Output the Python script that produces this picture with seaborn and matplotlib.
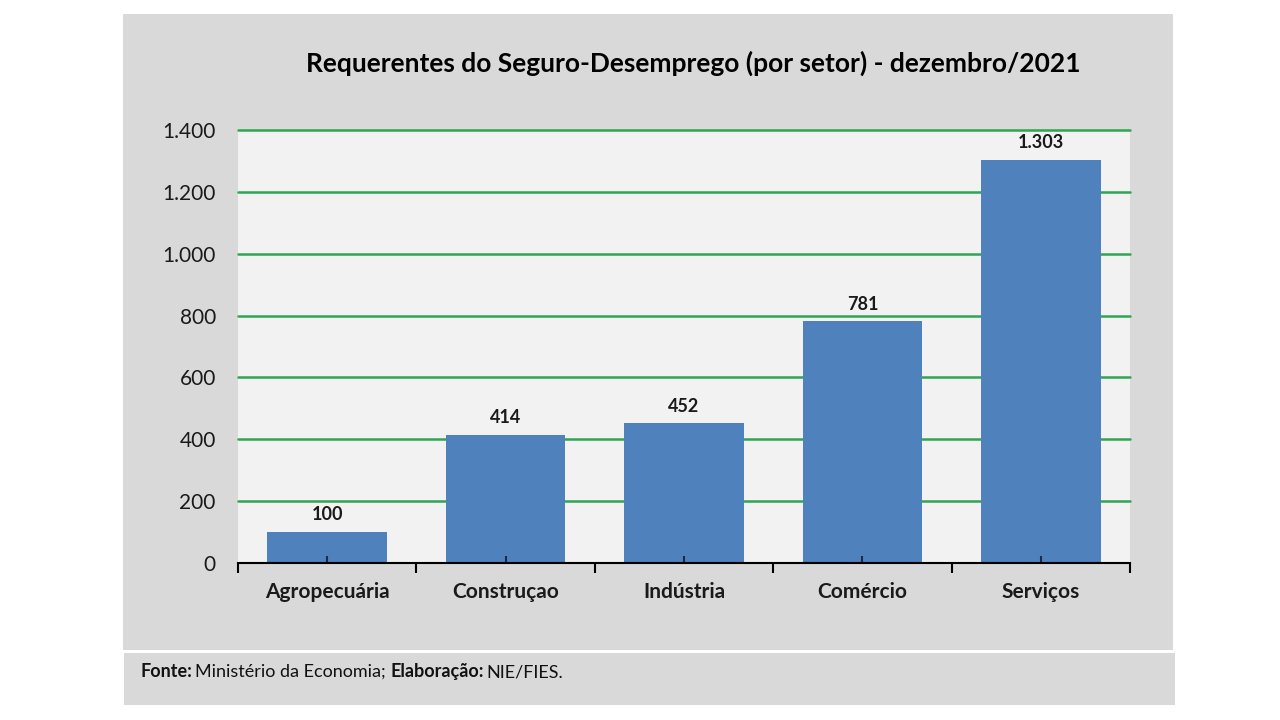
import numpy as np
import pandas as pd
import matplotlib
matplotlib.use("Agg")
import matplotlib.pyplot as plt
from matplotlib.patches import Rectangle
import seaborn as sns

# ================================================================
# DATA
# ================================================================
setores = ["Agropecuária", "Construçao", "Indústria", "Comércio", "Serviços"]
requerentes = [100, 414, 452, 781, 1303]
y_ticks = [0, 200, 400, 600, 800, 1000, 1200, 1400]

titulo = "Requerentes do Seguro-Desemprego (por setor) - dezembro/2021"

# ================================================================
# STYLE
# ================================================================
sns.set_style("white")
plt.rcParams["font.family"] = ["Lato", "DejaVu Sans"]

BAR_COLOR = "#4F81BD"
GRID_COLOR = "#2EA552"
PANEL_COLOR = "#D9D9D9"
PLOT_BG = "#F2F2F2"


def fmt_br(v):
    return f"{v:,.0f}".replace(",", ".")


# ================================================================
# FIGURE
# ================================================================
W, H = 1280, 720
fig = plt.figure(figsize=(12.8, 7.2), dpi=100, facecolor="white")

# gray panel behind the chart
fig.patches.append(Rectangle((123 / W, 1 - 650 / H), (1173 - 123) / W, (650 - 14) / H,
                             transform=fig.transFigure, facecolor=PANEL_COLOR,
                             edgecolor="none", zorder=-5))
# footer box
fig.patches.append(Rectangle((124 / W, 1 - 705 / H), (1175 - 124) / W, (705 - 653) / H,
                             transform=fig.transFigure, facecolor=PANEL_COLOR,
                             edgecolor="none", zorder=-5))

ax = fig.add_axes([238 / W, 1 - 563 / H, (1130 - 238) / W, (563 - 130) / H])
ax.set_zorder(2)
ax.set_facecolor(PLOT_BG)
ax.set_axisbelow(False)

df = pd.DataFrame({"setor": setores, "valor": requerentes})
sns.barplot(data=df, x="setor", y="valor", color=BAR_COLOR, saturation=1,
            width=0.67, linewidth=0, edgecolor="none", ax=ax, zorder=2)

ax.set_xlim(-0.5, len(setores) - 0.5)
ax.set_ylim(0, 1400)
ax.set_yticks(y_ticks)
ax.set_yticklabels([fmt_br(v) for v in y_ticks])
ax.set_xlabel("")
ax.set_ylabel("")

# grid
for v in y_ticks[1:]:
    ax.axhline(v, color=GRID_COLOR, lw=1.8, zorder=1, clip_on=False)

for s in ["top", "right", "left"]:
    ax.spines[s].set_visible(False)
ax.spines["bottom"].set_color("black")
ax.spines["bottom"].set_linewidth(1.5)
ax.spines["bottom"].set_zorder(5)

ax.tick_params(axis="y", left=False, length=0, pad=16, labelsize=15,
               labelcolor="#1a1a1a")
ax.tick_params(axis="x", which="major", bottom=True, direction="in", length=5,
               width=1.5, color="#1F2A44", pad=14, labelsize=15)
for lbl in ax.get_xticklabels():
    lbl.set_fontweight("bold")
    lbl.set_color("#1a1a1a")
ax.set_xticks(np.arange(-0.5, len(setores)), minor=True)
ax.tick_params(axis="x", which="minor", bottom=True, direction="out", length=7,
               width=1.5, color="black")

# data labels
for i, v in enumerate(requerentes):
    ax.text(i, v + 28, fmt_br(v), ha="center", va="bottom",
            fontsize=13, fontweight="bold", color="#1a1a1a")

# title
fig.text(693 / W, 1 - 63 / H, titulo, ha="center", va="center",
         fontsize=19, fontweight="bold", color="black")

# footer
fy = 1 - 677 / H
fs = 13
t1 = fig.text(140 / W, fy, "Fonte:", ha="left", va="baseline", fontsize=fs,
              fontweight="bold", color="#111111")
fig.canvas.draw()
r = fig.canvas.get_renderer()
x = t1.get_window_extent(r).x1 + 3
t2 = fig.text(x / W, fy, "Ministério da Economia; ", ha="left", va="baseline",
              fontsize=fs, color="#111111")
x = t2.get_window_extent(r).x1
t3 = fig.text(x / W, fy, "Elaboração:", ha="left", va="baseline", fontsize=fs,
              fontweight="bold", color="#111111")
x = t3.get_window_extent(r).x1 + 3
fig.text(x / W, fy, "NIE/FIES.", ha="left", va="baseline", fontsize=fs,
         color="#111111")

fig.savefig("out.png", dpi=100, facecolor="white")
